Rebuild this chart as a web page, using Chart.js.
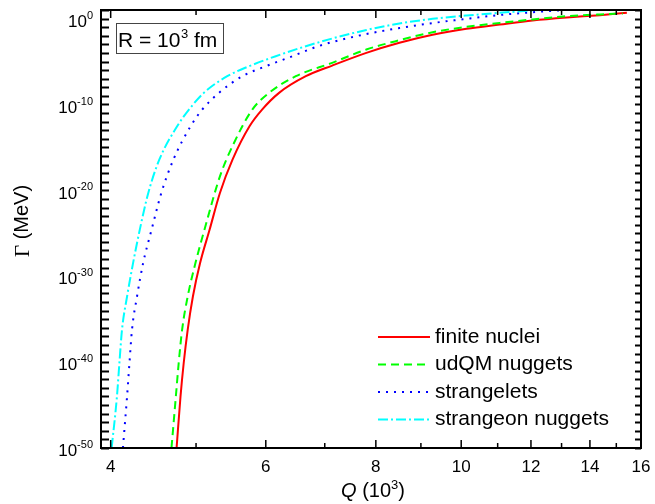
<!DOCTYPE html>
<html>
<head>
<meta charset="utf-8">
<script src="https://cdn.jsdelivr.net/npm/chart.js@4.4.1/dist/chart.umd.min.js"></script>
<style>
  html, body { margin: 0; padding: 0; background: #fff; }
  #wrap { width: 655px; height: 504px; }
</style>
</head>
<body>
<div id="wrap"><canvas id="chart" width="655" height="504"></canvas></div>
<script>
// Q in units of 10^3, Gamma given as log10(Gamma / MeV)
const Q_FINITE = [4.752, 4.801, 4.841, 4.892, 4.959, 5.053, 5.180, 5.322, 5.500, 5.750, 5.942, 6.212, 6.662, 7.137, 7.804, 8.508, 9.279, 10.14, 11.06, 12.05, 13.18, 14.37, 15.42];
const LOG_G_FINITE = [-50, -44.0, -40.13, -36.24, -32.36, -28.47, -24.59, -20.31, -16.43, -12.54, -10.60, -8.65, -6.71, -5.47, -3.99, -2.82, -1.89, -1.19, -0.69, -0.22, 0.13, 0.40, 0.68];

const Q_UDQM = [4.689, 4.743, 4.778, 4.821, 4.892, 4.992, 5.111, 5.322, 5.521, 5.792, 6.051, 6.490, 7.137, 7.804, 8.508, 9.279, 10.14, 11.06, 12.05, 13.18, 14.37, 15.26];
const LOG_G_UDQM = [-50, -44.0, -40.13, -36.24, -32.36, -28.47, -24.59, -18.37, -14.48, -10.60, -8.65, -6.71, -5.15, -3.60, -2.52, -1.59, -0.96, -0.50, -0.10, 0.28, 0.48, 0.59];

const Q_STRANGELET = [4.13, 4.175, 4.201, 4.229, 4.285, 4.354, 4.451, 4.566, 4.712, 4.929, 5.081, 5.308, 5.643, 5.999, 6.433, 6.840, 7.137, 7.804, 8.508, 9.279, 10.14, 11.06, 12.05, 13.18, 14.37, 15.5];
const LOG_G_STRANGELET = [-50, -44.0, -40.13, -36.24, -32.36, -28.47, -24.59, -20.31, -16.43, -12.54, -10.60, -8.65, -6.71, -5.55, -4.38, -3.31, -2.73, -1.80, -1.10, -0.52, -0.03, 0.42, 0.74, 1.0, 1.2, 1.38];

const Q_STRANGEON = [4.01, 4.066, 4.092, 4.120, 4.175, 4.241, 4.316, 4.413, 4.542, 4.759, 4.908, 5.103, 5.425, 5.742, 6.158, 6.662, 7.137, 7.804, 8.508, 9.279, 10.14, 11.06, 12.05, 13.18, 14.37];
const LOG_G_STRANGEON = [-50, -44.0, -40.13, -36.24, -32.36, -28.47, -24.59, -20.31, -16.43, -12.54, -10.60, -8.65, -6.71, -5.55, -4.38, -3.22, -2.32, -1.33, -0.57, -0.03, 0.36, 0.67, 0.94, 1.15, 1.35];

const X_TICKS = [4, 6, 8, 10, 12, 14, 16];
const X_MINOR = [5, 7, 9, 11, 13, 15];
const Y_LABEL_EXP = [0, -10, -20, -30, -40, -50];

const toPoints = (qs, logs) => qs.map((q, i) => ({ x: q, y: Math.pow(10, logs[i]) }));

const SANS = '"Liberation Sans", Arial, sans-serif';

const framePlugin = {
  id: 'frame',
  afterDatasetsDraw(chart) {
    const { ctx, chartArea: a, scales } = chart;
    const x = scales.x, y = scales.y;
    ctx.save();
    ctx.strokeStyle = '#000';
    ctx.lineWidth = 2;
    ctx.strokeRect(a.left, a.top, a.right - a.left, a.bottom - a.top);

    // y ticks, one per decade
    ctx.lineWidth = 2;
    ctx.beginPath();
    for (let e = -50; e <= 1; e++) {
      const py = Math.round(y.getPixelForValue(Math.pow(10, e))) + 0.5;
      ctx.moveTo(a.left, py); ctx.lineTo(a.left + 8, py);
      ctx.moveTo(a.right, py); ctx.lineTo(a.right - 6, py);
    }
    ctx.stroke();

    // x ticks top and bottom
    ctx.lineWidth = 1.5;
    ctx.beginPath();
    X_TICKS.forEach(v => {
      const px = x.getPixelForValue(v);
      ctx.moveTo(px, a.bottom); ctx.lineTo(px, a.bottom - 8);
      ctx.moveTo(px, a.top); ctx.lineTo(px, a.top + 8);
    });
    X_MINOR.forEach(v => {
      const px = x.getPixelForValue(v);
      ctx.moveTo(px, a.bottom); ctx.lineTo(px, a.bottom - 5);
      ctx.moveTo(px, a.top); ctx.lineTo(px, a.top + 5);
    });
    ctx.stroke();
    ctx.restore();
  },
  afterDraw(chart) {
    const { ctx, chartArea: a, scales } = chart;
    const x = scales.x, y = scales.y;
    ctx.save();
    ctx.fillStyle = '#000';

    // x tick labels
    ctx.font = '17px ' + SANS;
    ctx.textAlign = 'center';
    ctx.textBaseline = 'middle';
    X_TICKS.forEach(v => ctx.fillText(String(v), x.getPixelForValue(v), 467));

    // y tick labels 10^n
    Y_LABEL_EXP.forEach(e => {
      const py = y.getPixelForValue(Math.pow(10, e));
      const sup = String(e);
      ctx.font = '11px ' + SANS;
      const sw = ctx.measureText(sup).width;
      ctx.textAlign = 'left';
      ctx.fillText(sup, 93 - sw, py - 3);
      ctx.font = '17px ' + SANS;
      ctx.textAlign = 'right';
      ctx.fillText('10', 93 - sw, py + 3.5);
    });

    // x title: Q (10^3)
    ctx.textAlign = 'left';
    ctx.textBaseline = 'alphabetic';
    const parts = [
      { t: 'Q', f: 'italic 20px ' + SANS, dy: 0 },
      { t: ' (10', f: '20px ' + SANS, dy: 0 },
      { t: '3', f: '13px ' + SANS, dy: -8 },
      { t: ')', f: '20px ' + SANS, dy: 0 }
    ];
    let total = 0;
    parts.forEach(p => { ctx.font = p.f; p.w = ctx.measureText(p.t).width; total += p.w; });
    let cx = (a.left + a.right) / 2 + 2 - total / 2;
    parts.forEach(p => { ctx.font = p.f; ctx.fillText(p.t, cx, 497 + p.dy); cx += p.w; });

    // y title: Gamma (MeV)
    ctx.save();
    ctx.translate(22, (a.top + a.bottom) / 2 - 8);
    ctx.rotate(-Math.PI / 2);
    ctx.font = '21px "Liberation Serif", "Times New Roman", serif';
    const gw = ctx.measureText('\u0393').width;
    ctx.font = '20px ' + SANS;
    const mw = ctx.measureText(' (MeV)').width;
    ctx.textBaseline = 'middle';
    ctx.font = '21px "Liberation Serif", "Times New Roman", serif';
    ctx.fillText('\u0393', -(gw + mw) / 2, 1);
    ctx.font = '20px ' + SANS;
    ctx.fillText(' (MeV)', -(gw + mw) / 2 + gw, 0);
    ctx.restore();

    // annotation box: R = 10^3 fm
    ctx.strokeStyle = '#444';
    ctx.lineWidth = 1;
    ctx.strokeRect(116.5, 23.5, 107, 30);
    ctx.textBaseline = 'alphabetic';
    let tx = 118;
    ctx.font = '21px ' + SANS;
    ctx.fillText('R = 10', tx, 47); tx += ctx.measureText('R = 10').width;
    ctx.font = '13px ' + SANS;
    ctx.fillText('3', tx + 0.5, 38); tx += ctx.measureText('3').width + 0.5;
    ctx.font = '21px ' + SANS;
    ctx.fillText(' fm', tx, 47);

    // legend, lower right
    ctx.font = '21px ' + SANS;
    ctx.textBaseline = 'middle';
    chart.data.datasets.forEach((ds, i) => {
      const ly = 337 + i * 27.5;
      ctx.save();
      ctx.strokeStyle = ds.borderColor;
      ctx.lineWidth = 2;
      ctx.setLineDash(ds.borderDash || []);
      ctx.beginPath();
      ctx.moveTo(378, ly); ctx.lineTo(430, ly);
      ctx.stroke();
      ctx.restore();
      ctx.fillStyle = '#000';
      ctx.fillText(ds.label, 435, ly);
    });
    ctx.restore();
  }
};

new Chart(document.getElementById('chart'), {
  type: 'line',
  data: {
    datasets: [
      { label: 'finite nuclei', data: toPoints(Q_FINITE, LOG_G_FINITE), borderColor: '#ff0000', borderWidth: 2, borderDash: [], order: 1 },
      { label: 'udQM nuggets', data: toPoints(Q_UDQM, LOG_G_UDQM), borderColor: '#00ff00', borderWidth: 2, borderDash: [8, 5], order: 0 },
      { label: 'strangelets', data: toPoints(Q_STRANGELET, LOG_G_STRANGELET), borderColor: '#0000ff', borderWidth: 2, borderDash: [2, 6], order: 3 },
      { label: 'strangeon nuggets', data: toPoints(Q_STRANGEON, LOG_G_STRANGEON), borderColor: '#00ffff', borderWidth: 2, borderDash: [10, 3, 2, 3], order: 2 }
    ]
  },
  options: {
    responsive: false,
    devicePixelRatio: 1,
    animation: false,
    events: [],
    layout: { padding: { left: 101, top: 10, right: 14, bottom: 56 } },
    elements: { point: { radius: 0 }, line: { cubicInterpolationMode: 'monotone', fill: false } },
    plugins: { legend: { display: false }, tooltip: { enabled: false } },
    scales: {
      x: { type: 'logarithmic', min: 3.9, max: 16, display: false },
      y: { type: 'logarithmic', min: 1e-50, max: 10, display: false }
    }
  },
  plugins: [framePlugin]
});
</script>
</body>
</html>
